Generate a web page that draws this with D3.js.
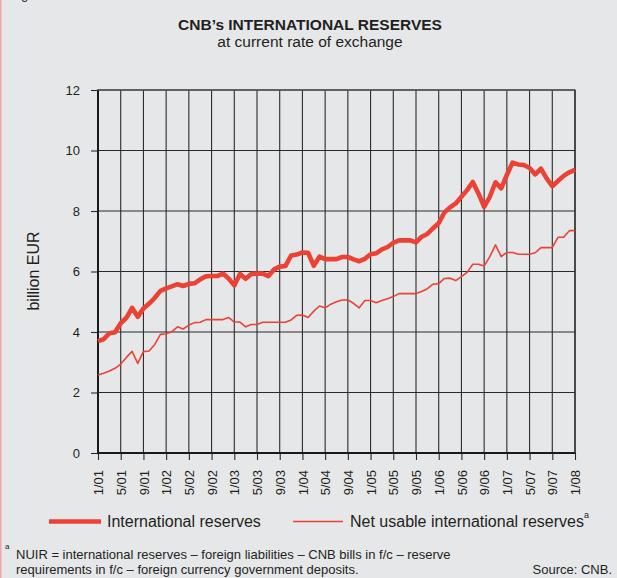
<!DOCTYPE html>
<html>
<head>
<meta charset="utf-8">
<script src="https://cdn.jsdelivr.net/npm/d3@7"></script>
<style>
  html, body { margin: 0; padding: 0; background: #e6e7e9; }
  svg { display: block; font-family: "Liberation Sans", Arial, Helvetica, sans-serif; }
</style>
</head>
<body>
<svg id="chart" width="617" height="578"></svg>
<script>
// ---- Data (monthly, 1/2001 .. 1/2008), billion EUR ----
const tickLabels = ["1/01","5/01","9/01","1/02","5/02","9/02","1/03","5/03","9/03","1/04","5/04","9/04",
                    "1/05","5/05","9/05","1/06","5/06","9/06","1/07","5/07","9/07","1/08"];
const monthsPerTick = 4;
const yTicks = [0, 2, 4, 6, 8, 10, 12];

const internationalReserves = [
  3.70, 3.76, 3.96, 3.99, 4.29, 4.47, 4.80, 4.50, 4.78, 4.94, 5.13, 5.36,
  5.44, 5.51, 5.58, 5.52, 5.59, 5.61, 5.74, 5.84, 5.85, 5.85, 5.93, 5.77,
  5.54, 5.92, 5.76, 5.92, 5.93, 5.93, 5.85, 6.07, 6.16, 6.18, 6.53, 6.56,
  6.63, 6.62, 6.19, 6.49, 6.41, 6.41, 6.41, 6.48, 6.48, 6.40, 6.34, 6.42,
  6.57, 6.60, 6.73, 6.81, 6.95, 7.03, 7.03, 7.03, 6.96, 7.15, 7.24, 7.43,
  7.60, 7.95, 8.12, 8.25, 8.47, 8.69, 8.96, 8.58, 8.14, 8.47, 8.95, 8.75,
  9.19, 9.60, 9.54, 9.52, 9.42, 9.21, 9.40, 9.08, 8.82, 8.99, 9.16, 9.28,
  9.36
];
const netUsableReserves = [
  2.58, 2.64, 2.71, 2.80, 2.94, 3.16, 3.36, 2.96, 3.35, 3.37, 3.59, 3.92,
  3.94, 4.01, 4.17, 4.10, 4.23, 4.31, 4.32, 4.41, 4.41, 4.41, 4.41, 4.48,
  4.33, 4.33, 4.17, 4.25, 4.25, 4.32, 4.32, 4.32, 4.32, 4.32, 4.40, 4.55,
  4.56, 4.48, 4.69, 4.86, 4.80, 4.92, 5.00, 5.06, 5.06, 4.95, 4.80, 5.04,
  5.04, 4.97, 5.04, 5.10, 5.17, 5.27, 5.27, 5.27, 5.27, 5.34, 5.43, 5.58,
  5.60, 5.77, 5.78, 5.70, 5.83, 5.97, 6.24, 6.24, 6.18, 6.49, 6.88, 6.49,
  6.63, 6.63, 6.57, 6.57, 6.57, 6.62, 6.79, 6.79, 6.79, 7.13, 7.13, 7.35,
  7.35
];
const seriesNames = ["International reserves", "Net usable international reserves"];

// ---- Layout ----
const svg = d3.select("#chart");
const plotL = 98, plotR = 575, plotT = 90, plotB = 453;
const red = "#ec4236";
const gridColor = "#2a2a2a";

const nMonths = internationalReserves.length - 1;
const x = d3.scaleLinear().domain([0, nMonths]).range([plotL, plotR]);
const y = d3.scaleLinear().domain([0, 12]).range([plotB, plotT]);

// left pink edge & clipped fragment of figure label
svg.append("rect").attr("x", 0).attr("y", 0).attr("width", 1.5).attr("height", 578).attr("fill", "#f2a3a3");
svg.append("text").attr("x", 21).attr("y", -1).attr("font-size", 13).attr("fill", "#222").text("g");

// Title
svg.append("text").attr("x", 310).attr("y", 30).attr("text-anchor", "middle")
  .attr("font-size", 15.5).attr("font-weight", "bold").attr("fill", "#231f20")
  .text("CNB’s INTERNATIONAL RESERVES");
svg.append("text").attr("x", 310).attr("y", 47).attr("text-anchor", "middle")
  .attr("font-size", 15.5).attr("fill", "#231f20")
  .text("at current rate of exchange");

// Grid: horizontal
const g = svg.append("g");
g.selectAll("line.hgrid").data(yTicks.filter(d => d > 0)).enter().append("line")
  .attr("x1", plotL).attr("x2", plotR)
  .attr("y1", d => y(d)).attr("y2", d => y(d))
  .attr("stroke", gridColor).attr("stroke-width", 1.1);
// Grid: vertical
const tickIdx = tickLabels.map((_, i) => i * monthsPerTick);
g.selectAll("line.vgrid").data(tickIdx.filter(d => d > 0)).enter().append("line")
  .attr("x1", d => x(d)).attr("x2", d => x(d))
  .attr("y1", plotT).attr("y2", plotB)
  .attr("stroke", gridColor).attr("stroke-width", 1.1);

// Y axis
const yAxis = d3.axisLeft(y).tickValues(yTicks).tickSize(7).tickPadding(11).tickFormat(d3.format("d"));
const ya = svg.append("g").attr("transform", `translate(${plotL},0)`).call(yAxis);
ya.select(".domain").remove();
ya.selectAll(".tick line").attr("stroke", gridColor).attr("stroke-width", 1.1);
ya.selectAll(".tick text").attr("font-size", 13).attr("fill", "#231f20")
  .attr("font-family", "Liberation Sans, Arial, sans-serif");

// X axis
const xAxis = d3.axisBottom(x).tickValues(tickIdx).tickSize(7).tickFormat((d, i) => tickLabels[i]);
const xa = svg.append("g").attr("transform", `translate(0,${plotB})`).call(xAxis);
xa.select(".domain").remove();
xa.selectAll(".tick line").attr("stroke", gridColor).attr("stroke-width", 1.1);
xa.selectAll(".tick text")
  .attr("font-size", 13).attr("fill", "#231f20")
  .attr("font-family", "Liberation Sans, Arial, sans-serif")
  .attr("text-anchor", "end")
  .attr("transform", "translate(0,17) rotate(-90)")
  .attr("x", 0).attr("y", 0).attr("dy", "0.36em");

// Axis lines (thick)
svg.append("line").attr("x1", plotL).attr("x2", plotL).attr("y1", plotT - 0.5).attr("y2", plotB + 1)
  .attr("stroke", "#1a1a1a").attr("stroke-width", 2);
svg.append("line").attr("x1", plotL - 1).attr("x2", plotR + 0.5).attr("y1", plotB).attr("y2", plotB)
  .attr("stroke", "#1a1a1a").attr("stroke-width", 2);
// top border & right border
svg.append("line").attr("x1", plotL).attr("x2", plotR + 0.5).attr("y1", plotT).attr("y2", plotT)
  .attr("stroke", "#555").attr("stroke-width", 1.4);
svg.append("line").attr("x1", plotR).attr("x2", plotR).attr("y1", plotT).attr("y2", plotB)
  .attr("stroke", "#333").attr("stroke-width", 1.4);

// Lines
const line = d3.line().x((d, i) => x(i)).y(d => y(d));
svg.append("path").datum(netUsableReserves).attr("d", line)
  .attr("fill", "none").attr("stroke", red).attr("stroke-width", 1.6).attr("stroke-linejoin", "round");
svg.append("path").datum(internationalReserves).attr("d", line)
  .attr("fill", "none").attr("stroke", red).attr("stroke-width", 4.6).attr("stroke-linejoin", "round");

// Y label
svg.append("text").attr("transform", "translate(39,271) rotate(-90)").attr("text-anchor", "middle")
  .attr("font-size", 16).attr("fill", "#231f20").text("billion EUR");

// Legend
const legend = svg.append("g");
legend.append("line").attr("x1", 49).attr("x2", 101).attr("y1", 521.5).attr("y2", 521.5)
  .attr("stroke", red).attr("stroke-width", 4.6);
legend.append("text").attr("x", 107).attr("y", 527).attr("font-size", 16).attr("fill", "#231f20").text(seriesNames[0]);
legend.append("line").attr("x1", 293).attr("x2", 343).attr("y1", 521.5).attr("y2", 521.5)
  .attr("stroke", red).attr("stroke-width", 1.6);
const lt = legend.append("text").attr("x", 350).attr("y", 527).attr("font-size", 16).attr("fill", "#231f20");
lt.append("tspan").text(seriesNames[1]);
lt.append("tspan").attr("font-size", 9).attr("dy", -9).text("a");

// Footnote
svg.append("text").attr("x", 5).attr("y", 549).attr("font-size", 8).attr("fill", "#231f20").text("a");
svg.append("text").attr("x", 16).attr("y", 559).attr("font-size", 13).attr("fill", "#231f20")
  .text("NUIR = international reserves – foreign liabilities – CNB bills in f/c – reserve");
svg.append("text").attr("x", 16).attr("y", 574).attr("font-size", 13).attr("fill", "#231f20")
  .text("requirements in f/c – foreign currency government deposits.");
svg.append("text").attr("x", 612).attr("y", 574).attr("text-anchor", "end").attr("font-size", 13).attr("fill", "#231f20")
  .text("Source: CNB.");
</script>
</body>
</html>
